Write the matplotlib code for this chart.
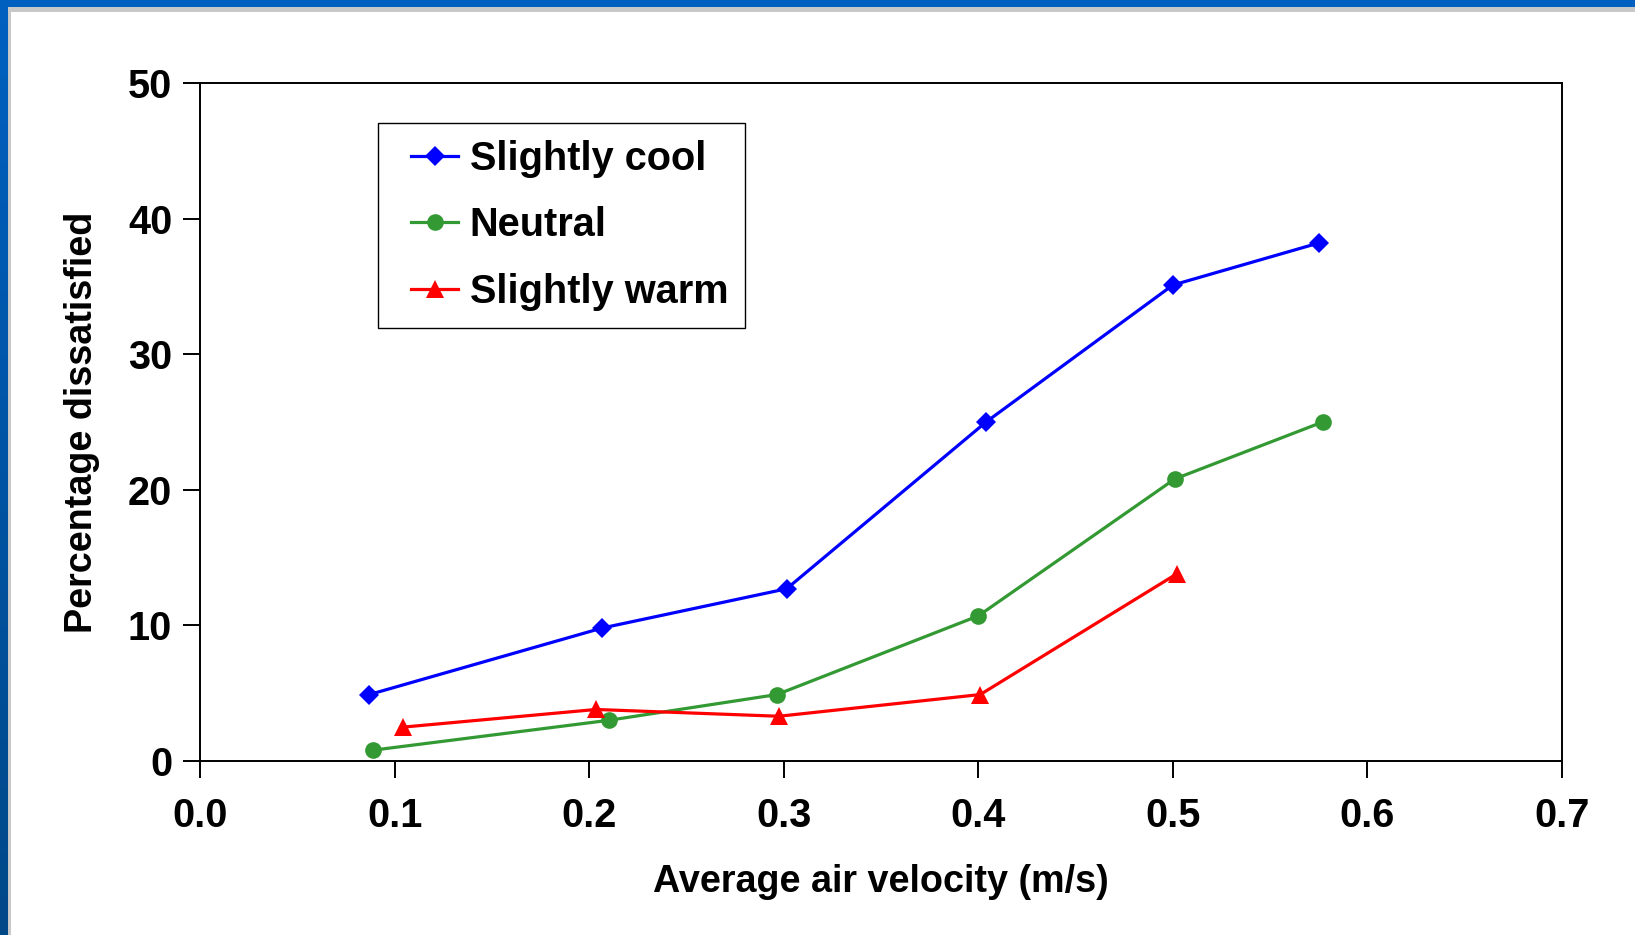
import numpy as np
import matplotlib
matplotlib.use("Agg")
import matplotlib.pyplot as plt
from matplotlib.patches import Rectangle
from matplotlib.colors import LinearSegmentedColormap
from matplotlib.lines import Line2D
from matplotlib.legend_handler import HandlerLine2D

plt.rcParams['font.family'] = ['Liberation Sans', 'DejaVu Sans']
plt.rcParams['font.weight'] = 'bold'

# Air velocity (m/s) and percentage dissatisfied per thermal sensation
cool_v = [0.087, 0.2065, 0.3015, 0.404, 0.500, 0.575]
cool_pd = [4.9, 9.8, 12.7, 25.0, 35.1, 38.2]

neutral_v = [0.089, 0.210, 0.2965, 0.400, 0.501, 0.577]
neutral_pd = [0.8, 3.0, 4.9, 10.7, 20.8, 25.0]

warm_v = [0.1045, 0.2035, 0.2975, 0.401, 0.502]
warm_pd = [2.5, 3.8, 3.3, 4.9, 13.8]

x_ticks = [0.0, 0.1, 0.2, 0.3, 0.4, 0.5, 0.6, 0.7]
y_ticks = [0, 10, 20, 30, 40, 50]

W, H = 1635, 935
fig = plt.figure(figsize=(W / 100, H / 100), dpi=100)
fig.patch.set_facecolor('white')

# Slide frame: blue bars on top and left with a grey inner edge
fig.patches.append(Rectangle((0, 1 - 12 / H), 1, 12 / H, transform=fig.transFigure,
                             facecolor='#c8c8c8', edgecolor='none', zorder=0))
fig.patches.append(Rectangle((0, 0), 11 / W, 1, transform=fig.transFigure,
                             facecolor='#c8c8c8', edgecolor='none', zorder=0))
fig.patches.append(Rectangle((0, 1 - 7 / H), 1, 7 / H, transform=fig.transFigure,
                             facecolor='#0060c0', edgecolor='none', zorder=1))
grad_ax = fig.add_axes([0, 0, 7 / W, 1 - 7 / H])
grad_ax.set_axis_off()
grad_ax.set_zorder(5)
cmap = LinearSegmentedColormap.from_list('frame', ['#004888', '#0060c0'])
grad_ax.imshow(np.linspace(0, 1, 256).reshape(-1, 1), aspect='auto', cmap=cmap,
               origin='lower', extent=[0, 1, 0, 1])

ax = fig.add_axes([200 / W, (H - 761) / H, (1562 - 200) / W, (761 - 83) / H])

ax.plot(cool_v, cool_pd, color='#0000ff', lw=2.3, marker='D', ms=10.5,
        mec='#0000ff', mew=0, label='Slightly cool', clip_on=False, zorder=3)
ax.plot(neutral_v, neutral_pd, color='#339933', lw=2.3, marker='o', ms=12,
        mec='#339933', mew=0, label='Neutral', clip_on=False, zorder=3)
ax.plot(warm_v, warm_pd, color='#ff0000', lw=2.3, marker='^', ms=13.5,
        mec='#ff0000', mew=0, label='Slightly warm', clip_on=False, zorder=3)

ax.set_xlim(0, 0.7)
ax.set_ylim(0, 50)
ax.set_xticks(x_ticks)
ax.set_xticklabels([f'{v:.1f}' for v in x_ticks])
ax.set_yticks(y_ticks)
ax.set_yticklabels([str(v) for v in y_ticks])
ax.tick_params(direction='out', length=12, width=1.4, labelsize=28.5)
ax.tick_params(axis='x', pad=14)
ax.tick_params(axis='y', pad=8)
for s in ax.spines.values():
    s.set_linewidth(1.4)

ax.set_xlabel('Average air velocity (m/s)', fontsize=27.2, fontweight='bold', labelpad=21)
ax.set_ylabel('Percentage dissatisfied', fontsize=27.2, fontweight='bold', labelpad=20)

leg = ax.legend(loc='upper left', bbox_to_anchor=(0.1307, 0.941), borderaxespad=0,
                fancybox=False, framealpha=1, edgecolor='black', fontsize=28.6,
                handlelength=1.6, handletextpad=0.29, labelspacing=0.72,
                borderpad=0.42,
                handler_map={Line2D: HandlerLine2D(xpad=0.41)})
leg.get_frame().set_linewidth(1.0)

fig.savefig('out.png', dpi=100, facecolor='white')
